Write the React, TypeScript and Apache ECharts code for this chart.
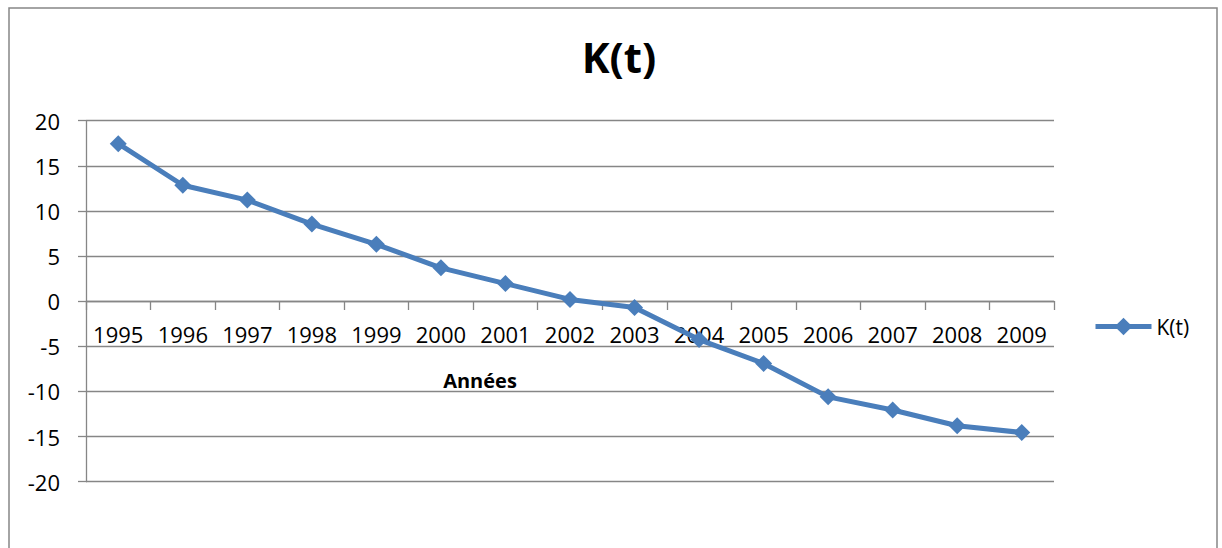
import React, { useEffect, useRef } from "react";
import * as echarts from "echarts";

const years = ["1995", "1996", "1997", "1998", "1999", "2000", "2001", "2002", "2003", "2004", "2005", "2006", "2007", "2008", "2009"];
const kValues = [17.45, 12.85, 11.2, 8.55, 6.3, 3.7, 1.95, 0.2, -0.7, -4.25, -6.9, -10.6, -12.05, -13.8, -14.55];
const seriesName = "K(t)";
const chartTitle = "K(t)";
const xAxisTitle = "Années";

const FONT = "'Open Sans', 'Noto Sans', sans-serif";

export default function App() {
  const ref = useRef<HTMLDivElement>(null);
  useEffect(() => {
    if (!ref.current) return;
    const chart = echarts.init(ref.current, undefined, { renderer: "svg" });
    chart.setOption({
      animation: false,
      backgroundColor: "#ffffff",
      title: {
        text: chartTitle,
        left: 614,
        top: 30,
        textAlign: "center",
        textStyle: { fontFamily: FONT, fontSize: 42, fontWeight: "bold", color: "#000" },
      },
      legend: {
        data: [seriesName],
        left: 1088,
        top: 311,
        itemWidth: 56,
        itemHeight: 22,
        itemGap: 4,
        lineStyle: { width: 5 },
        textStyle: { fontFamily: FONT, fontSize: 21, color: "#000" },
      },
      grid: { left: 86, right: 168, top: 120.7, bottom: 66.3 },
      xAxis: {
        type: "category",
        data: years,
        boundaryGap: true,
        offset: -180.7,
        axisLine: { onZero: false, lineStyle: { color: "#868686", width: 1.3 } },
        axisTick: { show: true, length: 9, lineStyle: { color: "#868686", width: 1.3 } },
        axisLabel: { interval: 0, margin: 22, fontFamily: FONT, fontSize: 22, color: "#000" },
        splitLine: { show: false },
      },
      yAxis: {
        type: "value",
        min: -20,
        max: 20,
        interval: 5,
        axisLine: { show: true, lineStyle: { color: "#868686", width: 1.3 } },
        axisTick: { show: true, length: 8, lineStyle: { color: "#868686", width: 1.3 } },
        axisLabel: { margin: 26, fontFamily: FONT, fontSize: 22, color: "#000" },
        splitLine: { show: true, lineStyle: { color: "#868686", width: 1.3 } },
      },
      series: [
        {
          name: seriesName,
          type: "line",
          data: kValues,
          symbol: "diamond",
          symbolSize: 17,
          lineStyle: { color: "#4A7EBB", width: 5 },
          itemStyle: { color: "#4A7EBB" },
          z: 5,
        },
      ],
      graphic: [
        {
          type: "rect",
          shape: { x: 9, y: 8, width: 1208, height: 560 },
          style: { fill: "none", stroke: "#868686", lineWidth: 1.5 },
          z: -1,
        },
        {
          type: "text",
          x: 480,
          y: 380,
          style: {
            text: xAxisTitle,
            fontFamily: FONT,
            fontSize: 20,
            fontWeight: "bold",
            fill: "#000",
            align: "center",
            verticalAlign: "middle",
          },
        },
      ],
    });
    return () => chart.dispose();
  }, []);
  return <div ref={ref} style={{ width: 1222, height: 548, position: "absolute", left: 0, top: 0 }} />;
}
